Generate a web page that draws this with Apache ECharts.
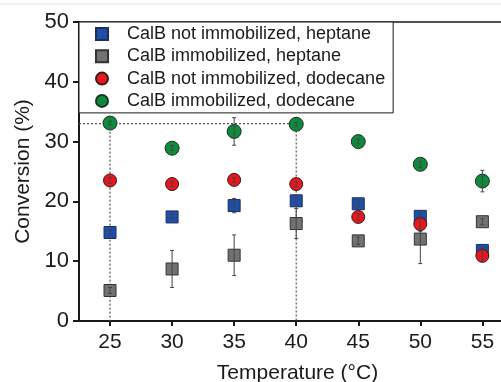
<!DOCTYPE html>
<html>
<head>
<meta charset="utf-8">
<script src="https://cdn.jsdelivr.net/npm/echarts@6/dist/echarts.min.js"></script>
<style>
  html, body { margin: 0; padding: 0; background: #fff; }
  #chart { width: 501px; height: 382px; }
</style>
</head>
<body>
<div id="chart"></div>
<script>
// temperatures (°C)
const temps = [25, 30, 35, 40, 45, 50, 55];
const xTicks = [25, 30, 35, 40, 45, 50, 55];

// conversion (%) per condition, with +/- error
const freeHeptane = [14.8, 17.4, 19.3, 20.1, 19.6, 17.5, 11.8];
const freeHeptaneErr = [0.4, 0.4, 1.2, 0.9, 0.5, 0.5, 0.4];
const immHeptane = [5.1, 8.7, 11.0, 16.3, 13.4, 13.7, 16.6];
const immHeptaneErr = [0.5, 3.1, 3.4, 2.5, 0.6, 4.1, 0.5];
const freeDodecane = [23.5, 22.9, 23.6, 22.9, 17.4, 16.2, 10.9];
const freeDodecaneErr = [0.5, 0.4, 0.4, 0.4, 0.5, 1.2, 1.0];
const immDodecane = [33.1, 28.9, 31.7, 32.9, 30.0, 26.2, 23.4];
const immDodecaneErr = [0.3, 0.4, 2.3, 0.3, 0.4, 0.5, 1.8];

// dotted guide lines at the best result
const guideH = [[22.5, 33], [40, 33], [40, 0]];
const guideV = [[25, 33], [25, 0]];

const names = [
  'CalB not immobilized, heptane',
  'CalB immobilized, heptane',
  'CalB not immobilized, dodecane',
  'CalB immobilized, dodecane'
];

const font = 'Liberation Sans, Arial, sans-serif';
const ink = '#1a1a1a';

const pts = vals => temps.map((t, i) => [t, vals[i]]);
const errs = (vals, e) => temps.map((t, i) => [t, vals[i] - e[i], vals[i] + e[i]]);

const chart = echarts.init(document.getElementById('chart'));

function errorSeries(data, z) {
  return {
    type: 'custom',
    silent: true,
    z: z,
    data: data,
    renderItem: (params, api) => {
      const lo = api.coord([api.value(0), api.value(1)]);
      const hi = api.coord([api.value(0), api.value(2)]);
      const st = { stroke: '#444', lineWidth: 1 };
      return {
        type: 'group',
        children: [
          { type: 'line', shape: { x1: lo[0], y1: lo[1], x2: hi[0], y2: hi[1] }, style: st },
          { type: 'line', shape: { x1: lo[0] - 2, y1: lo[1], x2: lo[0] + 2, y2: lo[1] }, style: st },
          { type: 'line', shape: { x1: hi[0] - 2, y1: hi[1], x2: hi[0] + 2, y2: hi[1] }, style: st }
        ]
      };
    }
  };
}

const dotted = { color: '#555', width: 1.2, type: [2, 2] };

chart.setOption({
  animation: false,
  backgroundColor: '#fff',
  textStyle: { fontFamily: font },
  grid: { left: 79, right: 0, top: 22, bottom: 61, outerBoundsMode: 'none', containLabel: false },
  legend: {
    orient: 'vertical',
    left: 79,
    top: 22,
    data: names,
    itemWidth: 12,
    itemHeight: 12,
    itemGap: 0.3,
    padding: [1, 8, 1, 16],
    backgroundColor: '#fff',
    borderColor: ink,
    borderWidth: 1,
    textStyle: { color: ink, fontSize: 18, lineHeight: 22, fontFamily: font, padding: [0, 0, 0, 14] }
  },
  xAxis: [{
    type: 'value',
    min: 22.5,
    max: 56.5,
    name: 'Temperature (°C)',
    nameLocation: 'middle',
    nameGap: 42,
    nameTextStyle: { color: ink, fontSize: 21, padding: [0, 0, 0, 15] },
    axisLine: { show: true, lineStyle: { color: ink, width: 2 } },
    axisTick: { show: true, length: 5, customValues: xTicks, lineStyle: { color: ink, width: 2 } },
    axisLabel: { color: ink, fontSize: 21, margin: 11, customValues: xTicks },
    splitLine: { show: false }
  }, {
    type: 'value',
    position: 'top',
    min: 22.5,
    max: 56.5,
    axisLine: { show: true, lineStyle: { color: ink, width: 1.5 } },
    axisTick: { show: false },
    axisLabel: { show: false },
    splitLine: { show: false }
  }],
  yAxis: {
    type: 'value',
    min: 0,
    max: 50,
    interval: 10,
    name: 'Conversion (%)',
    nameLocation: 'middle',
    nameGap: 44,
    nameTextStyle: { color: ink, fontSize: 21 },
    axisLine: { show: true, lineStyle: { color: ink, width: 2 } },
    axisTick: { show: true, length: 6, lineStyle: { color: ink, width: 2 } },
    axisLabel: { color: ink, fontSize: 22, margin: 10 },
    splitLine: { show: false }
  },
  series: [
    { type: 'line', data: guideH, symbol: 'none', silent: true, lineStyle: dotted, z: 1 },
    { type: 'line', data: guideV, symbol: 'none', silent: true, lineStyle: dotted, z: 1 },
    {
      name: names[1], type: 'scatter', symbol: 'rect', symbolSize: 12, z: 2,
      data: pts(immHeptane),
      itemStyle: { color: '#727272', borderColor: '#333', borderWidth: 1, opacity: 1 }
    },
    errorSeries(errs(immHeptane, immHeptaneErr), 3),
    {
      name: names[0], type: 'scatter', symbol: 'rect', symbolSize: 12, z: 4,
      data: pts(freeHeptane),
      itemStyle: { color: '#1f4ea8', borderColor: '#1b2f5e', borderWidth: 1, opacity: 1 }
    },
    errorSeries(errs(freeHeptane, freeHeptaneErr), 5),
    {
      name: names[2], type: 'scatter', symbol: 'circle', symbolSize: 13, z: 6,
      data: pts(freeDodecane),
      itemStyle: { color: '#e8161d', borderColor: '#3a1a1a', borderWidth: 1, opacity: 1 }
    },
    errorSeries(errs(freeDodecane, freeDodecaneErr), 7),
    {
      name: names[3], type: 'scatter', symbol: 'circle', symbolSize: 14, z: 8,
      data: pts(immDodecane),
      itemStyle: { color: '#0f8a3c', borderColor: '#1a3322', borderWidth: 1, opacity: 1 }
    },
    errorSeries(errs(immDodecane, immDodecaneErr), 9)
  ],
  graphic: [{
    type: 'line',
    silent: true,
    shape: { x1: 0, y1: 4, x2: 501, y2: 4 },
    style: { stroke: '#e2e2e2', lineWidth: 1 }
  }]
});
</script>
</body>
</html>
